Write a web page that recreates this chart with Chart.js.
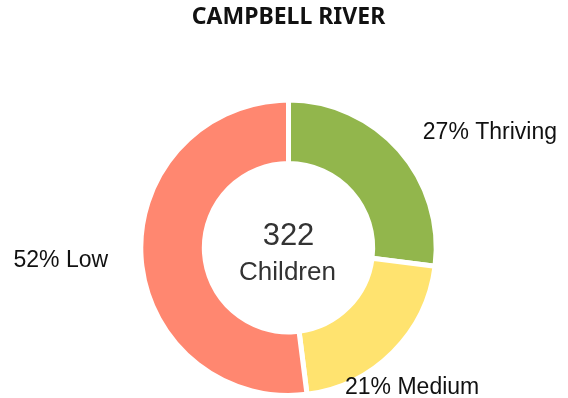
<!DOCTYPE html>
<html>
<head>
<meta charset="utf-8">
<script src="https://cdn.jsdelivr.net/npm/chart.js@4/dist/chart.umd.min.js"></script>
<style>
  html, body { margin: 0; padding: 0; background: #fff; }
  #wrap { width: 568px; height: 398px; }
</style>
</head>
<body>
<div id="wrap"><canvas id="chart"></canvas></div>
<script>
var categories = ['Thriving', 'Medium', 'Low'];
var percentages = [27, 21, 52];
var totalChildren = 322;
var segmentColours = ['#92b64c', '#ffe36f', '#ff8770'];

var textFamily = '"Liberation Sans", Arial, sans-serif';
var labelSize = 23;

// total in the hole of the doughnut
var centreText = {
    id: 'centreText',
    afterDraw: function (chart) {
        var arc = chart.getDatasetMeta(0).data[0];
        var ctx = chart.ctx;
        ctx.save();
        ctx.fillStyle = '#333';
        ctx.textAlign = 'center';
        ctx.textBaseline = 'alphabetic';
        ctx.font = '31px ' + textFamily;
        ctx.fillText(String(totalChildren), arc.x, arc.y - 3);
        ctx.font = '26px ' + textFamily;
        ctx.fillText('Children', arc.x - 1, arc.y + 32);
        ctx.restore();
    }
};

// "NN% Name" next to each slice, aligned by which side it sits on
var outsideLabels = {
    id: 'outsideLabels',
    afterDraw: function (chart) {
        var meta = chart.getDatasetMeta(0);
        var ctx = chart.ctx;
        var cap = labelSize * 0.716;
        ctx.save();
        ctx.font = labelSize + 'px ' + textFamily;
        ctx.fillStyle = '#111';
        ctx.textBaseline = 'alphabetic';
        meta.data.forEach(function (arc, i) {
            var mid = (arc.startAngle + arc.endAngle) / 2;
            var r = arc.outerRadius + 30;
            var x = arc.x + Math.cos(mid) * r;
            var y = arc.y + Math.sin(mid) * r;
            var deg = ((mid + Math.PI / 2) * 180 / Math.PI + 720) % 360;
            var text = percentages[i] + '% ' + categories[i];
            if (deg >= 20 && deg < 130) {
                ctx.textAlign = 'left';
                ctx.fillText(text, x + 1, y + cap / 2);
            } else if (deg >= 130 && deg < 230) {
                ctx.textAlign = 'center';
                ctx.fillText(text, x - 2, y + cap + 4);
            } else if (deg >= 230 && deg < 340) {
                ctx.textAlign = 'right';
                ctx.fillText(text, x - 3, y + cap / 2);
            } else {
                ctx.textAlign = 'center';
                ctx.fillText(text, x, y - 6);
            }
        });
        ctx.restore();
    }
};

new Chart(document.getElementById('chart'), {
    type: 'doughnut',
    data: {
        labels: categories,
        datasets: [{
            data: percentages,
            backgroundColor: segmentColours,
            borderColor: '#fff',
            borderWidth: 5,
            hoverOffset: 0
        }]
    },
    options: {
        responsive: true,
        maintainAspectRatio: false,
        devicePixelRatio: 1,
        animation: false,
        cutout: '57%',
        layout: { padding: { left: 9 } },
        plugins: {
            legend: { display: false },
            tooltip: { enabled: false },
            title: {
                display: true,
                text: 'CAMPBELL RIVER',
                color: '#111',
                font: { family: '"Noto Sans", sans-serif', size: 23, weight: 'bold' },
                padding: { top: 4, bottom: 66 }
            }
        }
    },
    plugins: [centreText, outsideLabels]
});
</script>
</body>
</html>
